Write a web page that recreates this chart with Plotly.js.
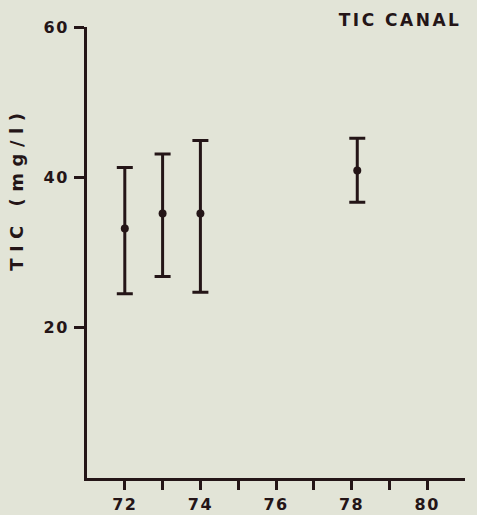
<!DOCTYPE html>
<html>
<head>
<meta charset="utf-8">
<script src="https://cdn.plot.ly/plotly-3.0.1.min.js"></script>
<style>
html,body{margin:0;padding:0;background:#e2e4d7;}
#chart{width:477px;height:515px;}
</style>
</head>
<body>
<div id="chart"></div>
<script>
// Data
var years = [72, 73, 74, 78.15];
var meanTIC = [33.2, 35.2, 35.2, 40.9];
var upperTIC = [41.3, 43.1, 44.9, 45.2];
var lowerTIC = [24.5, 26.8, 24.7, 36.7];
var xTickVals = [72, 74, 76, 78, 80];
var xTickText = ['72', '74', '76', '78', '80'];
var xMinorVals = [73, 75, 77, 79];
var yTickVals = [20, 40, 60];
var yTickText = ['20', '40', '60'];

var ink = '#241517';
var bg = '#e2e4d7';
var fontFam = '"DejaVu Sans", Arial, sans-serif';

var plus = upperTIC.map(function(u, i){ return u - meanTIC[i]; });
var minus = lowerTIC.map(function(l, i){ return meanTIC[i] - l; });

var trace = {
  x: years, y: meanTIC, type: 'scatter', mode: 'markers',
  marker: {color: ink, size: 8},
  error_y: {type: 'data', symmetric: false, array: plus, arrayminus: minus,
            color: ink, thickness: 3, width: 8},
  hoverinfo: 'skip'
};

var layout = {
  width: 477, height: 515,
  paper_bgcolor: bg, plot_bgcolor: bg,
  margin: {l: 87, r: 12, t: 27, b: 37},
  showlegend: false,
  font: {family: fontFam, color: ink},
  xaxis: {
    range: [71, 81], showgrid: false, zeroline: false,
    showline: true, linecolor: ink, linewidth: 3,
    tickmode: 'array', tickvals: xTickVals, ticktext: xTickText,
    ticks: 'outside', ticklen: 9, tickwidth: 3, tickcolor: ink,
    ticklabelstandoff: 1,
    minor: {tickmode: 'array', tickvals: xMinorVals, ticks: 'outside', ticklen: 9, tickwidth: 3, tickcolor: ink, showgrid: false},
    tickfont: {family: fontFam, size: 16, color: ink, weight: 'bold'}
  },
  yaxis: {
    range: [0, 60], showgrid: false, zeroline: false,
    showline: true, linecolor: ink, linewidth: 3,
    tickmode: 'array', tickvals: yTickVals, ticktext: yTickText,
    ticks: 'outside', ticklen: 10, tickwidth: 3, tickcolor: ink,
    ticklabelstandoff: 2,
    tickfont: {family: fontFam, size: 16, color: ink, weight: 'bold'}
  },
  annotations: [
    {text: 'TIC CANAL', xref: 'paper', yref: 'paper', x: 0.828, y: 1.0,
     xanchor: 'center', yanchor: 'middle', yshift: 7, showarrow: false,
     font: {family: fontFam, size: 17, color: ink, weight: 'bold'}},
    {text: 'TIC (mg/l)', xref: 'paper', yref: 'paper', x: 0, y: 0.64,
     xanchor: 'center', yanchor: 'middle', xshift: -71, showarrow: false, textangle: -90,
     font: {family: fontFam, size: 18, color: ink, weight: 'bold'}}
  ]
};

Plotly.newPlot('chart', [trace], layout, {staticPlot: true}).then(function(){
  var anns = document.querySelectorAll('.annotation-text');
  anns.forEach(function(t){
    var s = t.textContent;
    if (s === 'TIC CANAL') t.style.letterSpacing = '2.5px';
    if (s === 'TIC (mg/l)') t.style.letterSpacing = '6.5px';
  });
  document.querySelectorAll('.xtick text, .ytick text').forEach(function(t){
    t.style.letterSpacing = '1.5px';
  });
});
</script>
</body>
</html>
